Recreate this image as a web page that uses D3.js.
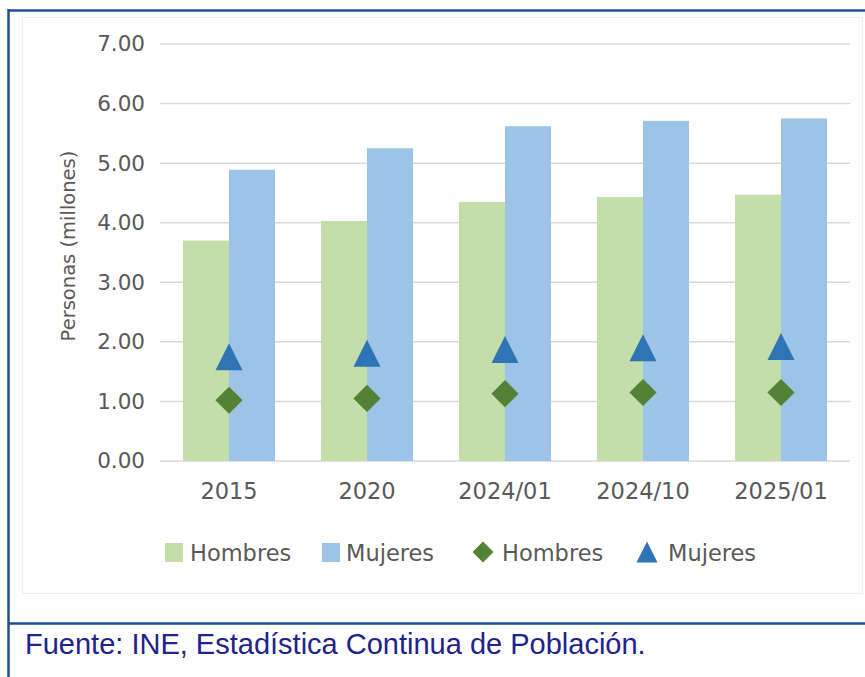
<!DOCTYPE html>
<html>
<head>
<meta charset="utf-8">
<script src="https://cdn.jsdelivr.net/npm/d3@7"></script>
<style>
  body { margin: 0; background: #fff; }
  text { font-family: "DejaVu Sans", sans-serif; fill: #595959; }
</style>
</head>
<body>
<div id="chart"></div>
<script>
// Data
const categories = ["2015", "2020", "2024/01", "2024/10", "2025/01"];
const hombresBar = [3.70, 4.03, 4.35, 4.43, 4.47];
const mujeresBar = [4.89, 5.25, 5.62, 5.71, 5.75];
const hombresMarker = [1.02, 1.05, 1.13, 1.15, 1.15];
const mujeresMarker = [1.75, 1.81, 1.87, 1.90, 1.92];
const yTicks = [0, 1, 2, 3, 4, 5, 6, 7];
const series = ["Hombres", "Mujeres"];

const width = 865, height = 677;
const colors = { barH: "#C4DDAA", barM: "#9DC3E6", dotH: "#538135", dotM: "#2E75B6" };

const svg = d3.select("#chart").append("svg")
  .attr("width", width)
  .attr("height", height);

svg.append("rect").attr("width", width).attr("height", height).attr("fill", "#fff");

// faint frame of the chart object
svg.append("rect")
  .attr("x", 22.5).attr("y", 17.5)
  .attr("width", 840).attr("height", 576)
  .attr("fill", "none")
  .attr("stroke", "#f0f0f0");

// outer blue border and separator
const border = "#1F4E9C";
svg.append("line").attr("x1", 8).attr("x2", width).attr("y1", 10.5).attr("y2", 10.5)
  .attr("stroke", border).attr("stroke-width", 2.5);
svg.append("line").attr("x1", 8.5).attr("x2", 8.5).attr("y1", 9).attr("y2", height)
  .attr("stroke", border).attr("stroke-width", 2.5);
svg.append("line").attr("x1", 8).attr("x2", width).attr("y1", 623.5).attr("y2", 623.5)
  .attr("stroke", border).attr("stroke-width", 2.5);

// Scales
let x = d3.scaleBand()
  .domain(categories)
  .range([160, 850])
  .paddingInner(1 / 3)
  .paddingOuter(1 / 6);

let xSub = d3.scaleBand()
  .domain(series)
  .range([0, x.bandwidth()]);

let y = d3.scaleLinear()
  .domain([0, 7])
  .range([461, 44]);

// Gridlines
svg.append("g")
  .selectAll("line")
  .data(yTicks)
  .enter().append("line")
  .attr("x1", 160).attr("x2", 850)
  .attr("y1", d => y(d)).attr("y2", d => y(d))
  .attr("stroke", "#d9d9d9")
  .attr("stroke-width", 1.5);

// Y axis
const yAxis = svg.append("g")
  .attr("transform", "translate(160,0)")
  .call(d3.axisLeft(y).tickValues(yTicks).tickFormat(d3.format(".2f")).tickSize(0).tickPadding(15));
yAxis.select(".domain").remove();
yAxis.selectAll("text").style("font-size", "21.5px").attr("font-family", null).style("fill", "#595959");

// X axis
const xAxis = svg.append("g")
  .attr("transform", "translate(0,461)")
  .call(d3.axisBottom(x).tickSize(0).tickPadding(22));
xAxis.select(".domain").remove();
xAxis.selectAll("text").style("font-size", "22.5px").attr("font-family", null).style("fill", "#595959");

// Y title
svg.append("text")
  .attr("transform", "translate(68,246) rotate(-90)")
  .attr("text-anchor", "middle")
  .attr("dominant-baseline", "central")
  .style("font-size", "19.5px")
  .text("Personas (millones)");

// Bars
const groups = svg.append("g")
  .selectAll("g")
  .data(categories)
  .enter().append("g")
  .attr("transform", d => "translate(" + x(d) + ",0)");

groups.append("rect")
  .attr("x", xSub("Hombres"))
  .attr("width", xSub.bandwidth())
  .attr("y", (d, i) => y(hombresBar[i]))
  .attr("height", (d, i) => y(0) - y(hombresBar[i]))
  .attr("fill", colors.barH);

groups.append("rect")
  .attr("x", xSub("Mujeres"))
  .attr("width", xSub.bandwidth())
  .attr("y", (d, i) => y(mujeresBar[i]))
  .attr("height", (d, i) => y(0) - y(mujeresBar[i]))
  .attr("fill", colors.barM);

// Markers
// triangle centred on its bounding box, like the spreadsheet marker
const triangle = {
  draw(context, size) {
    const r = Math.sqrt(size) / 2;
    context.moveTo(0, -r);
    context.lineTo(r, r);
    context.lineTo(-r, r);
    context.closePath();
  }
};
const cx = d => x(d) + x.bandwidth() / 2;

svg.append("g")
  .selectAll("path")
  .data(categories)
  .enter().append("path")
  .attr("d", d3.symbol().type(d3.symbolSquare).size(370))
  .attr("transform", (d, i) => "translate(" + cx(d) + "," + y(hombresMarker[i]) + ") rotate(45)")
  .attr("fill", colors.dotH);

svg.append("g")
  .selectAll("path")
  .data(categories)
  .enter().append("path")
  .attr("d", d3.symbol().type(triangle).size(27 * 27))
  .attr("transform", (d, i) => "translate(" + cx(d) + "," + y(mujeresMarker[i]) + ")")
  .attr("fill", colors.dotM);

// Legend
const legendY = 552;
const legend = svg.append("g");

legend.append("rect").attr("x", 165).attr("y", legendY - 9).attr("width", 18).attr("height", 19).attr("fill", colors.barH);
legend.append("rect").attr("x", 322).attr("y", legendY - 9).attr("width", 18).attr("height", 19).attr("fill", colors.barM);
legend.append("path")
  .attr("d", d3.symbol().type(d3.symbolSquare).size(220))
  .attr("transform", "translate(483," + legendY + ") rotate(45)")
  .attr("fill", colors.dotH);
legend.append("path")
  .attr("d", d3.symbol().type(triangle).size(21 * 21))
  .attr("transform", "translate(647," + legendY + ")")
  .attr("fill", colors.dotM);

const legendText = [
  { x: 190, label: "Hombres" },
  { x: 346, label: "Mujeres" },
  { x: 502, label: "Hombres" },
  { x: 668, label: "Mujeres" }
];
legend.selectAll("text")
  .data(legendText)
  .enter().append("text")
  .attr("x", d => d.x)
  .attr("y", legendY + 9)
  .style("font-size", "22.5px")
  .text(d => d.label);

// Source
svg.append("text")
  .attr("x", 25)
  .attr("y", 654)
  .style("font-family", "'Liberation Sans', Arial, sans-serif")
  .style("font-size", "29px")
  .style("fill", "#22228C")
  .text("Fuente: INE, Estadística Continua de Población.");
</script>
</body>
</html>
